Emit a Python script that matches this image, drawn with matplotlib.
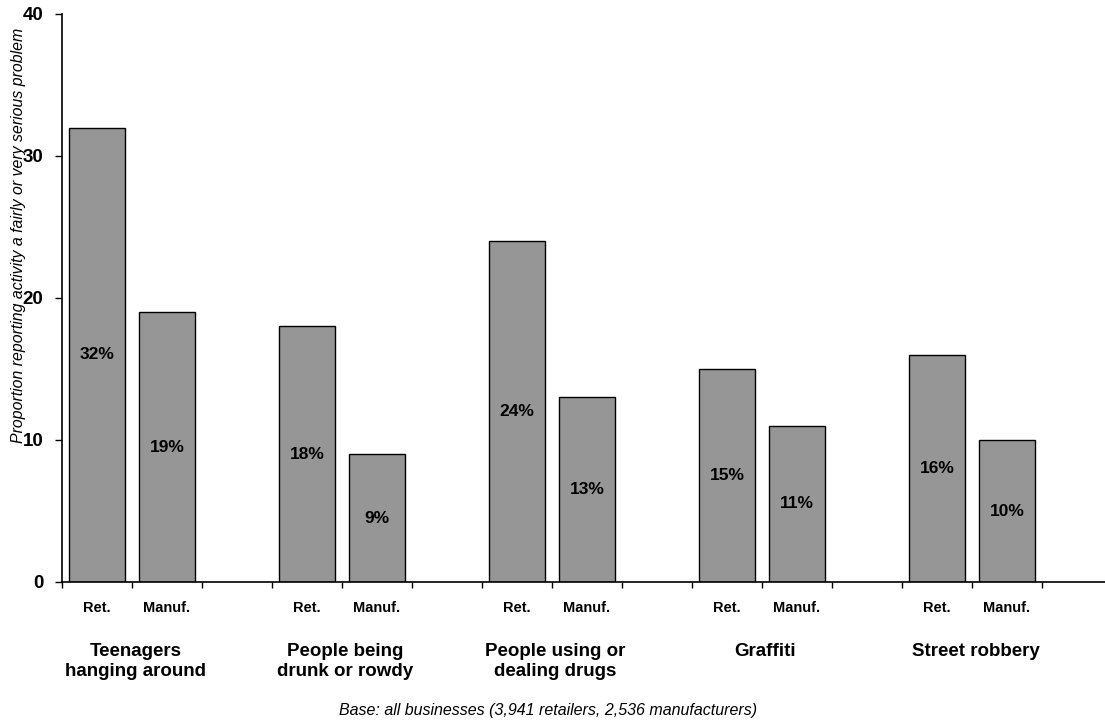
import matplotlib
matplotlib.use("Agg")
import matplotlib.pyplot as plt
from matplotlib.transforms import blended_transform_factory

plt.rcParams['font.family'] = ['Liberation Sans', 'DejaVu Sans']

categories = ["Teenagers\nhanging around", "People being\ndrunk or rowdy",
              "People using or\ndealing drugs", "Graffiti", "Street robbery"]
sub_labels = ["Ret.", "Manuf."]
retailers = [32, 18, 24, 15, 16]
manufacturers = [19, 9, 13, 11, 10]
y_ticks = [0, 10, 20, 30, 40]
y_label = "Proportion reporting activity a fairly or very serious problem"
footnote = "Base: all businesses (3,941 retailers, 2,536 manufacturers)"

W, H = 1105, 726
fig = plt.figure(figsize=(W / 100, H / 100), dpi=100)
ax_left, ax_right = 62 / W, 1112 / W
ax_bottom, ax_top = (H - 582) / H, (H - 14) / H
ax = fig.add_axes([ax_left, ax_bottom, ax_right - ax_left, ax_top - ax_bottom])

bar_color = "#969696"
width = 0.8
n = len(categories)
ret_x = [3 * g + 0.5 for g in range(n)]
man_x = [3 * g + 1.5 for g in range(n)]

ax.bar(ret_x, retailers, width=width, color=bar_color, edgecolor="black", linewidth=1.0, zorder=2)
ax.bar(man_x, manufacturers, width=width, color=bar_color, edgecolor="black", linewidth=1.0, zorder=2)

for xs, vals in ((ret_x, retailers), (man_x, manufacturers)):
    for x, v in zip(xs, vals):
        ax.text(x, v / 2, f"{v}%", ha="center", va="center", fontsize=12.5,
                fontweight="bold", zorder=3)

ax.set_xlim(0, 3 * n)
ax.set_ylim(0, 40)
ax.set_yticks(y_ticks)
ax.set_yticklabels([str(t) for t in y_ticks], fontsize=13.5, fontweight="bold")
ax.set_xticks(range(0, 3 * n + 1))
ax.set_xticklabels([])
ax.tick_params(axis="y", direction="out", length=5, width=1, pad=8.5)
ax.tick_params(axis="x", direction="out", length=4, width=1)

for s in ("top", "right"):
    ax.spines[s].set_visible(False)
for s in ("left", "bottom"):
    ax.spines[s].set_linewidth(1.2)
    ax.spines[s].set_color("black")

trans = blended_transform_factory(ax.transData, fig.transFigure)
for g in range(n):
    ax.text(ret_x[g], 1 - 601 / H, sub_labels[0], transform=trans, ha="center", va="top",
            fontsize=10.5, fontweight="bold")
    ax.text(man_x[g], 1 - 601 / H, sub_labels[1], transform=trans, ha="center", va="top",
            fontsize=10.5, fontweight="bold")
    ax.text(3 * g + 1.05, 1 - 643 / H, categories[g], transform=trans, ha="center", va="top",
            fontsize=13.5, fontweight="bold", linespacing=1.25)

fig.text(19 / W, 1 - 235 / H, y_label, rotation=90, ha="center", va="center",
         fontsize=11.4, style="italic")
fig.text(548 / W, 1 - 711 / H, footnote, ha="center", va="center",
         fontsize=11.5, style="italic")

fig.savefig("out.png", dpi=100)
